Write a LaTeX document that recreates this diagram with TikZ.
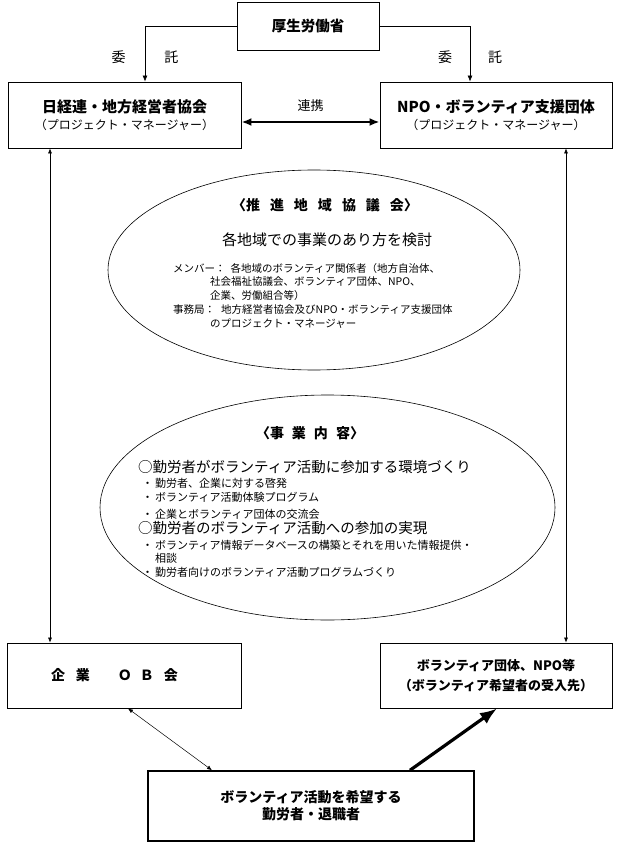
\documentclass[tikz,border=0pt]{standalone}
\usepackage{fontspec}
\setmainfont{Noto Sans CJK JP}
\usetikzlibrary{shapes.geometric,arrows.meta,positioning}

\begin{document}
\begin{tikzpicture}[
    x=1pt, y=-1pt,
    box/.style={rectangle, draw, line width=0.9pt, align=center, inner sep=0pt},
    oval/.style={ellipse, draw, line width=0.6pt, inner sep=0pt},
    head/.style={font=\fontsize{14}{16}\selectfont\bfseries},
    item/.style={font=\fontsize{14.5}{17}\selectfont, anchor=west, inner sep=0pt},
    sub/.style={font=\fontsize{11}{13.5}\selectfont, anchor=west, inner sep=0pt, align=left},
    arrow/.style={-{Latex[length=6pt,width=5pt]}, line width=0.6pt},
    thinlink/.style={{Latex[length=5pt,width=4pt]}-{Latex[length=5pt,width=4pt]}, line width=0.5pt},
    boldlink/.style={{Latex[length=10pt,width=8pt]}-{Latex[length=10pt,width=8pt]}, line width=2pt},
    heavy/.style={-{Latex[length=17pt,width=13pt]}, line width=3.2pt}
]
\useasboundingbox (0,0) rectangle (618,850);

% Ministry
\node[box, minimum width=142pt, minimum height=48pt, font=\fontsize{14.5}{17}\selectfont\bfseries] (mhlw) at (308,26) {厚生労働省};

% Project managers
\node[box, minimum width=233pt, minimum height=66pt, font=\fontsize{12}{17}\selectfont] (nikkeiren) at (124.5,115)
    {{\fontsize{15}{17}\selectfont\bfseries 日経連・地方経営者協会}\\（プロジェクト・マネージャー）};
\node[box, minimum width=232pt, minimum height=66pt, font=\fontsize{12}{17}\selectfont] (npo) at (496,115)
    {{\fontsize{15}{17}\selectfont\bfseries NPO・ボランティア支援団体}\\（プロジェクト・マネージャー）};

% Regional council
\node[oval, minimum width=412pt, minimum height=200pt] (council) at (314,270) {};
\node[head] (councilhead) at (325,205) {〈推\hspace{10pt}進\hspace{10pt}地\hspace{10pt}域\hspace{10pt}協\hspace{10pt}議\hspace{10pt}会〉};
\node[font=\fontsize{15}{18}\selectfont] (councilaim) at (327,240) {各地域での事業のあり方を検討};
\node[font=\fontsize{10.5}{13.75}\selectfont, align=left, anchor=north west, inner sep=0pt] (councilmembers) at (173,263)
    {メンバー：\hspace{5pt}各地域のボランティア関係者（地方自治体、\\\hspace*{37pt}社会福祉協議会、ボランティア団体、NPO、\\\hspace*{37pt}企業、労働組合等）\\事務局：\hspace{6pt}地方経営者協会及びNPO・ボランティア支援団体\\\hspace*{37pt}のプロジェクト・マネージャー};

% Activities
\node[oval, minimum width=455pt, minimum height=225pt] (tasks) at (327.5,507.5) {};
\node[head] (taskhead) at (310,433) {〈事\hspace{8pt}業\hspace{8pt}内\hspace{8pt}容〉};
\node[item] (task1) at (138,467) {○勤労者がボランティア活動に参加する環境づくり};
\node[sub] (task1a) at (142,483) {・\hspace{2pt}勤労者、企業に対する啓発};
\node[sub] (task1b) at (142,497) {・\hspace{2pt}ボランティア活動体験プログラム};
\node[sub] (task1c) at (142,514) {・\hspace{2pt}企業とボランティア団体の交流会};
\node[item] (task2) at (138,528) {○勤労者のボランティア活動への参加の実現};
\node[sub, anchor=north west] (task2a) at (142,539.5) {・\hspace{2pt}ボランティア情報データベースの構築とそれを用いた情報提供・\\\hspace*{13pt}相談};
\node[sub] (task2b) at (142,572) {・\hspace{2pt}勤労者向けのボランティア活動プログラムづくり};

% Bottom row
\node[box, minimum width=234pt, minimum height=65pt, font=\fontsize{14}{17}\selectfont\bfseries] (obclub) at (124,675.5)
    {企\hspace{11pt}業\hspace{28pt}Ｏ\hspace{8pt}Ｂ\hspace{10pt}会\hspace*{19pt}};
\node[box, minimum width=232pt, minimum height=65pt, font=\fontsize{13}{20}\selectfont\bfseries] (receivers) at (496,675.5)
    {ボランティア団体、NPO等\\（ボランティア希望者の受入先）};
\node[box, line width=1.5pt, minimum width=326pt, minimum height=70pt, font=\fontsize{14}{17}\selectfont\bfseries] (workers) at (311,806)
    {ボランティア活動を希望する\\勤労者・退職者};

% Commission
\draw[arrow] (mhlw.west) -| node[pos=0.78, font=\fontsize{14}{16}\selectfont] {委\hspace{39pt}託} ([xshift=20.5pt]nikkeiren.north);
\draw[arrow] (mhlw.east) -| node[pos=0.78, font=\fontsize{14}{16}\selectfont] {委\hspace{36pt}託} ([xshift=-26pt]npo.north);

% Cooperation
\draw[boldlink] ([yshift=-7pt]nikkeiren.east) -- node[above=9pt, inner sep=0pt, font=\fontsize{13}{15}\selectfont] {連携} ([yshift=-7pt]npo.west);

% Side links
\draw[thinlink] ([xshift=-74.5pt]nikkeiren.south) -- ([xshift=-74pt]obclub.north);
\draw[thinlink] ([xshift=70pt]npo.south) -- ([xshift=70pt]receivers.north);

% Workers
\draw[thinlink] ([xshift=4pt]obclub.south) -- ([xshift=-99pt]workers.north);
\draw[heavy] ([xshift=99pt]workers.north) -- ([xshift=1pt]receivers.south);

\end{tikzpicture}
\end{document}
